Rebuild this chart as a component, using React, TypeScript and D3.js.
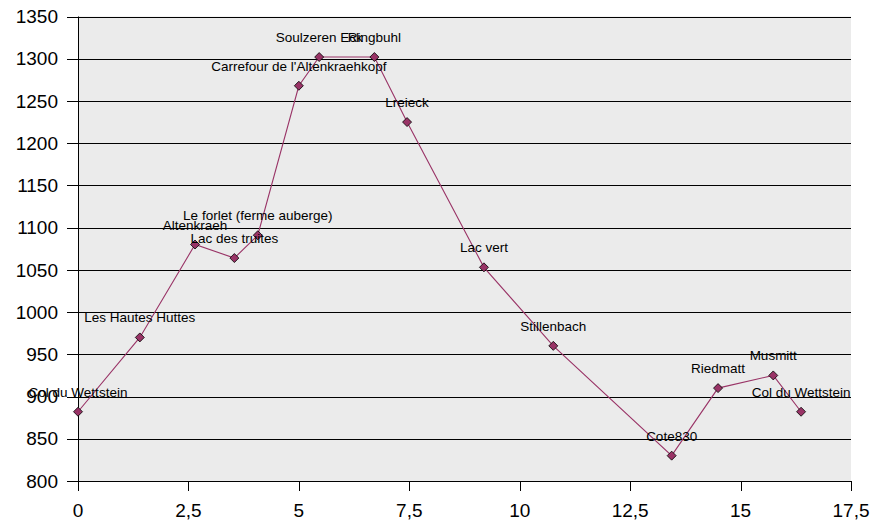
import React, { useEffect, useRef } from 'react';
import * as d3 from 'd3';

const names = [
  'Col du Wettstein',
  'Les Hautes Huttes',
  'Altenkraeh',
  'Lac des truites',
  'Le forlet (ferme auberge)',
  "Carrefour de l'Altenkraehkopf",
  'Soulzeren Eck',
  'Ringbuhl',
  'Lreieck',
  'Lac vert',
  'Stillenbach',
  'Cote830',
  'Riedmatt',
  'Musmitt',
  'Col du Wettstein',
];
const distances = [0, 1.4, 2.65, 3.54, 4.07, 5.0, 5.46, 6.71, 7.45, 9.19, 10.76, 13.44, 14.49, 15.74, 16.37];
const altitudes = [882, 970, 1080, 1064, 1091, 1268, 1302, 1302, 1225, 1053, 960, 830, 910, 925, 882];
const xTicks = [0, 2.5, 5, 7.5, 10, 12.5, 15, 17.5];
const yTicks = [800, 850, 900, 950, 1000, 1050, 1100, 1150, 1200, 1250, 1300, 1350];

interface Point {
  name: string;
  x: number;
  y: number;
}

const App: React.FC = () => {
  const ref = useRef<SVGSVGElement>(null);

  useEffect(() => {
    const data: Point[] = names.map((n, i) => ({ name: n, x: distances[i], y: altitudes[i] }));
    const svg = d3.select(ref.current);
    svg.selectAll('*').remove();

    const x = d3.scaleLinear().domain([0, 17.5]).range([78, 851]);
    const y = d3.scaleLinear().domain([800, 1350]).range([481, 16.5]);
    const font = 'Arial, "Liberation Sans", sans-serif';

    // plot background
    svg
      .append('rect')
      .attr('x', x(0))
      .attr('y', y(1350))
      .attr('width', x(17.5) - x(0))
      .attr('height', y(800) - y(1350))
      .attr('fill', '#ebebeb');

    // gridlines + y ticks
    svg
      .append('g')
      .selectAll('line')
      .data(yTicks)
      .join('line')
      .attr('x1', 67)
      .attr('x2', (d) => (d === 800 ? x(0) : x(17.5)))
      .attr('y1', (d) => Math.round(y(d)) + 0.5)
      .attr('y2', (d) => Math.round(y(d)) + 0.5)
      .attr('stroke', '#000')
      .attr('stroke-width', 1);

    svg
      .append('g')
      .selectAll('text')
      .data(yTicks)
      .join('text')
      .attr('x', 58)
      .attr('y', (d) => y(d))
      .attr('dy', '0.35em')
      .attr('text-anchor', 'end')
      .attr('font-family', font)
      .attr('font-size', 19)
      .attr('fill', '#000')
      .text((d) => d);

    // axes lines
    svg
      .append('line')
      .attr('x1', x(0) + 0.5)
      .attr('x2', x(0) + 0.5)
      .attr('y1', y(1350))
      .attr('y2', y(800) + 0.5)
      .attr('stroke', '#000');
    svg
      .append('line')
      .attr('x1', x(0))
      .attr('x2', x(17.5) + 0.5)
      .attr('y1', Math.round(y(800)) + 0.5)
      .attr('y2', Math.round(y(800)) + 0.5)
      .attr('stroke', '#000');

    // x ticks
    svg
      .append('g')
      .selectAll('line')
      .data(xTicks)
      .join('line')
      .attr('x1', (d) => Math.round(x(d)) + 0.5)
      .attr('x2', (d) => Math.round(x(d)) + 0.5)
      .attr('y1', y(800))
      .attr('y2', y(800) + 10)
      .attr('stroke', '#000');

    svg
      .append('g')
      .selectAll('text')
      .data(xTicks)
      .join('text')
      .attr('x', (d) => x(d))
      .attr('y', 517)
      .attr('text-anchor', 'middle')
      .attr('font-family', font)
      .attr('font-size', 19)
      .attr('fill', '#000')
      .text((d) => String(d).replace('.', ','));

    // profile line
    const line = d3
      .line<Point>()
      .x((d) => x(d.x))
      .y((d) => y(d.y));
    svg
      .append('path')
      .datum(data)
      .attr('fill', 'none')
      .attr('stroke', '#993366')
      .attr('stroke-width', 1.1)
      .attr('d', line);

    // diamond markers
    svg
      .append('g')
      .selectAll('path')
      .data(data)
      .join('path')
      .attr('transform', (d) => `translate(${x(d.x)},${y(d.y)})`)
      .attr('d', 'M0,-4.5L4.5,0L0,4.5L-4.5,0Z')
      .attr('fill', '#993366')
      .attr('stroke', '#000')
      .attr('stroke-width', 0.8);

    // labels
    svg
      .append('g')
      .selectAll('text')
      .data(data)
      .join('text')
      .attr('x', (d) => x(d.x))
      .attr('y', (d) => y(d.y) - 15)
      .attr('text-anchor', 'middle')
      .attr('font-family', font)
      .attr('font-size', 13.5)
      .attr('fill', '#000')
      .text((d) => d.name);
  }, []);

  return (
    <svg
      ref={ref}
      width={876}
      height={523}
      style={{ position: 'absolute', left: 0, top: 0, background: '#fff' }}
    />
  );
};

export default App;
